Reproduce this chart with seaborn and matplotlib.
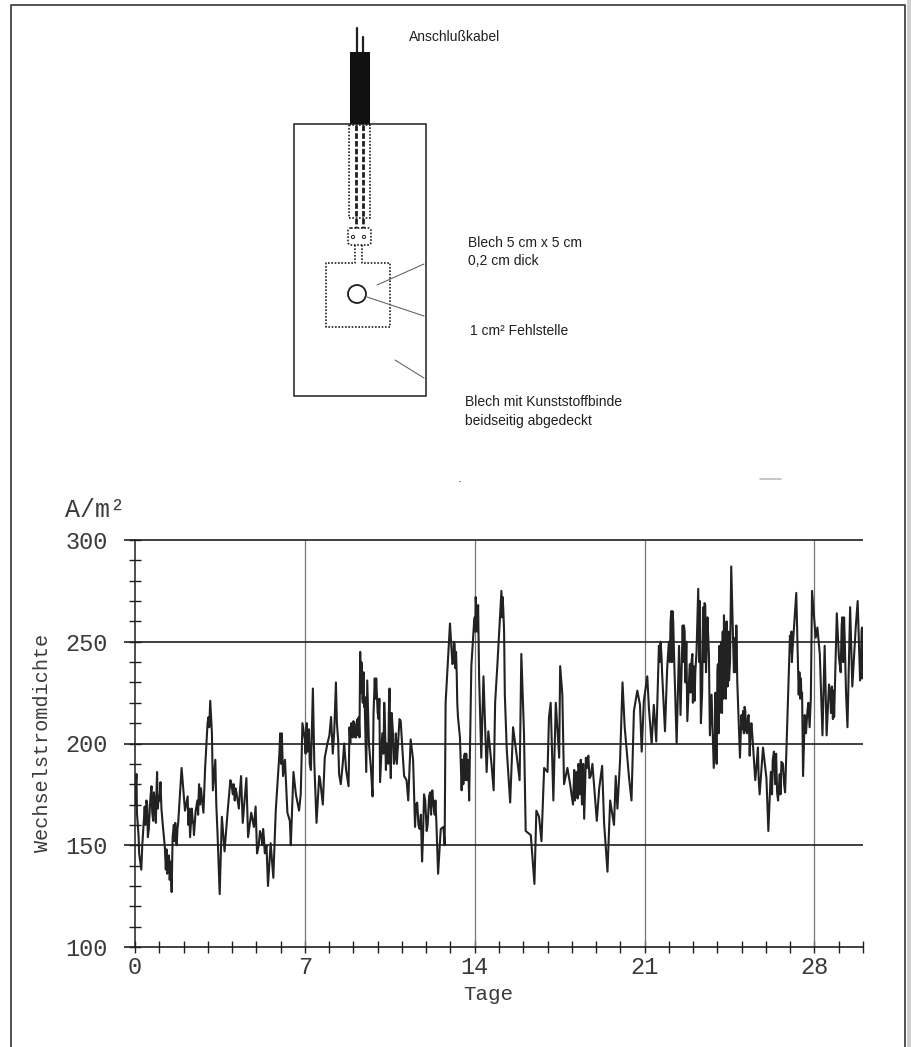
import matplotlib
matplotlib.use("Agg")
import matplotlib.pyplot as plt
from matplotlib.patches import Rectangle, Circle, FancyBboxPatch
import seaborn as sns

# readings, one pair of lists per stretch
days_a = [0.00, 0.06, 0.08, 0.15, 0.17, 0.26, 0.30, 0.40, 0.47, 0.53, 0.61, 0.68, 0.75, 0.82, 0.86, 0.91, 0.98, 1.05,
          1.13, 1.23, 1.27, 1.37, 1.51, 1.55, 1.60, 1.72, 1.78, 1.92, 2.06, 2.17, 2.27, 2.38, 2.43, 2.57, 2.64, 2.75,
          2.82, 2.89, 2.99, 3.10, 3.17, 3.21, 3.31, 3.35, 3.40, 3.49, 3.58, 3.69, 3.82, 3.93, 4.14, 4.23, 4.37, 4.44,
          4.59, 4.66, 4.79, 4.90, 4.97, 5.03, 5.15, 5.31, 5.48, 5.59, 5.70, 5.80, 5.98, 6.10, 6.18, 6.28, 6.38, 6.42,
          6.53, 6.63, 6.76, 6.83, 6.90, 7.00]
vals_a = [170, 185, 166, 154, 146, 138, 150, 169, 172, 154, 168, 179, 162, 170, 161, 186, 174, 181,
          162, 149, 138, 137, 127, 154, 160, 150, 161, 188, 167, 174, 154, 162, 155, 172, 180, 174,
          166, 188, 210, 221, 205, 177, 192, 170, 156, 126, 164, 147, 167, 182, 178, 172, 184, 161,
          183, 154, 166, 159, 169, 146, 157, 154, 130, 151, 134, 167, 205, 184, 192, 166, 162, 150,
          186, 175, 167, 175, 210, 202]

days_b = [7.08, 7.14, 7.25, 7.33, 7.39, 7.48, 7.59, 7.63, 7.74, 7.82, 7.93, 8.01, 8.08, 8.15, 8.21, 8.28, 8.32, 8.37,
          8.41, 8.48, 8.56, 8.62, 8.70, 8.80, 8.84, 8.94, 9.00, 9.11, 9.17, 9.25, 9.28, 9.35, 9.39, 9.46, 9.53, 9.57,
          9.64, 9.72, 9.79, 9.83, 9.88, 9.97, 10.04, 10.10, 10.19, 10.27, 10.34, 10.41, 10.49, 10.54, 10.63, 10.72,
          10.79, 10.90]
vals_b = [210, 203, 187, 227, 190, 161, 184, 182, 170, 193, 200, 204, 213, 195, 206, 230, 210, 202,
          185, 180, 190, 200, 187, 179, 208, 205, 211, 203, 212, 203, 245, 235, 220, 223, 186, 231,
          200, 188, 174, 215, 232, 223, 212, 181, 205, 220, 187, 194, 227, 183, 205, 194,
          190, 212]

days_c = [10.95, 11.02, 11.09, 11.19, 11.26, 11.36, 11.46, 11.54, 11.63, 11.73, 11.83, 11.91, 12.02, 12.12, 12.25,
          12.35, 12.42, 12.49, 12.60, 12.71, 12.76, 12.80, 12.98, 13.08, 13.17, 13.26, 13.31, 13.39, 13.46, 13.56,
          13.70, 13.77, 13.86, 13.97, 14.04, 14.11, 14.18, 14.27, 14.36, 14.49, 14.56, 14.69, 14.78, 14.84, 14.93,
          15.10, 15.18, 15.24, 15.32, 15.46, 15.58, 15.73, 15.85, 15.92, 16.03, 16.10, 16.31, 16.46, 16.54, 16.65,
          16.75, 16.86, 17.00]
vals_c = [211, 197, 184, 182, 172, 202, 192, 159, 171, 158, 142, 175, 157, 174, 177,
          165, 161, 136, 158, 159, 150, 220, 259, 239, 249, 233, 213, 203, 177, 193,
          190, 172, 238, 259, 272, 260, 233, 193, 233, 186, 206, 190, 177, 220, 238,
          275, 265, 224, 197, 171, 208, 194, 182, 244, 205, 157, 155, 131, 167, 164,
          152, 188, 186]

days_d = [17.06, 17.13, 17.24, 17.34, 17.48, 17.52, 17.61, 17.68, 17.82, 17.93, 18.05, 18.16, 18.30, 18.51, 18.58,
          18.78, 18.85, 19.03, 19.13, 19.25, 19.33, 19.47, 19.58, 19.74, 19.81, 19.88, 19.99, 20.09, 20.18, 20.29,
          20.36, 20.46, 20.56, 20.70, 20.81, 20.88, 20.97]
vals_d = [213, 220, 172, 220, 193, 238, 224, 180, 188, 180, 170, 180, 188, 163, 193,
          184, 190, 162, 178, 189, 161, 137, 172, 160, 184, 168, 192, 230, 208, 193,
          183, 172, 216, 226, 219, 196, 221]

days_e = [21.11, 21.18, 21.29, 21.38, 21.48, 21.59, 21.70, 21.84, 21.93, 22.07, 22.15, 22.21, 22.32, 22.42, 22.48,
          22.57, 22.65, 22.76, 22.86, 22.97, 23.06, 23.14, 23.21, 23.32, 23.42, 23.47, 23.56, 23.65, 23.69, 23.76,
          23.85, 23.94, 24.02, 24.13, 24.27, 24.35, 24.48, 24.57, 24.66, 24.71, 24.78, 24.82, 24.93, 24.99, 25.12,
          25.18, 25.26, 25.33, 25.44, 25.56, 25.67, 25.74, 25.88, 26.02, 26.10, 26.20, 26.33, 26.50, 26.64, 26.79,
          26.99, 27.09, 27.25, 27.35, 27.46, 27.53, 27.60, 27.71, 27.85, 27.90]
vals_e = [233, 217, 200, 219, 201, 248, 242, 206, 237, 260, 265, 245, 200, 248, 214,
          258, 255, 211, 239, 244, 221, 245, 276, 210, 267, 269, 247, 244, 204, 224,
          188, 203, 239, 245, 263, 222, 231, 287, 245, 240, 258, 230, 193, 214, 218,
          206, 213, 194, 204, 182, 198, 175, 198, 183, 157, 186, 196, 172, 191, 176,
          253, 245, 274, 224, 224, 184, 214, 216, 222, 275]

days_f = [28.05, 28.12, 28.22, 28.33, 28.42, 28.50, 28.60, 28.81, 28.92, 29.01, 29.15, 29.25, 29.36, 29.47, 29.56,
          29.70, 29.78, 29.88, 29.96, 30.00]
vals_f = [252, 257, 244, 204, 248, 204, 229, 213, 264, 242, 262, 250, 208, 267, 228,
          257, 270, 231, 257, 245]

# extra readings where the trace is so busy it reads as a thick band
days_g = [0.43, 0.50, 0.57, 0.64, 0.71, 0.78, 0.84, 0.89, 0.94, 1.01, 1.09, 1.30, 1.33, 1.40, 1.43, 1.47,
          1.63, 1.66, 1.69, 1.75, 2.20, 2.24, 2.30, 2.34, 2.41, 2.50, 2.60, 2.68, 2.72, 3.03, 3.06,
          3.98, 4.03, 4.07, 4.11, 4.18, 4.28, 4.32, 5.10, 5.20, 5.25, 5.28, 5.35, 5.42, 5.95, 6.02, 6.05,
          7.03, 7.06, 7.11, 7.17, 7.20, 8.87, 8.91, 8.97, 9.03, 9.07, 9.13, 9.20, 9.22,
          9.31, 9.33, 9.37, 9.42, 9.44, 9.91, 9.94, 10.00, 10.07, 10.24, 10.30, 10.37, 10.44, 10.46, 10.52, 10.58,
          10.67, 10.75, 11.58, 11.68, 11.78, 11.87, 11.96, 12.06, 12.16, 12.20, 12.30, 12.38]
vals_g = [160, 170, 158, 174, 166, 176, 165, 178, 168, 172, 168, 148, 136, 145, 133, 142,
          152, 161, 152, 158, 160, 168, 160, 168, 160, 167, 165, 170, 178, 213, 208,
          180, 175, 180, 172, 176, 168, 176, 150, 155, 150, 158, 146, 150, 195, 190, 205,
          195, 208, 196, 207, 190, 200, 210, 203, 210, 203, 210, 204, 213,
          225, 240, 222, 235, 218, 222, 232, 215, 222, 195, 210, 200, 190, 215, 195, 215,
          190, 205, 170, 160, 165, 155, 172, 160, 176, 165, 170, 172]

days_h = [13.12, 13.14, 13.20, 13.23, 13.28, 13.50, 13.53, 13.59, 13.62, 13.65, 13.68, 13.73, 14.00, 14.02, 14.07,
          14.09, 14.14, 15.13, 15.15, 15.21, 18.10, 18.13, 18.20, 18.24, 18.27, 18.33, 18.37, 18.42, 18.47,
          18.63, 18.68, 18.73, 21.62, 21.66, 21.72, 22.00, 22.04, 22.10, 22.13, 22.18, 22.60, 22.62, 22.68, 22.72,
          22.90, 22.93, 22.99, 23.02, 23.09, 23.25, 23.28, 23.37, 23.45, 23.50, 23.53, 23.59]
vals_h = [240, 250, 237, 245, 220, 192, 180, 195, 182, 195, 182, 192, 262, 255, 265,
          255, 268, 262, 272, 255, 187, 172, 186, 173, 190, 175, 192, 170, 190,
          188, 194, 183, 240, 250, 235, 250, 240, 265, 240, 260, 240, 258, 230, 250,
          225, 240, 220, 238, 235, 240, 270, 225, 240, 268, 235, 262]

days_i = [23.90, 23.92, 23.97, 24.00, 24.05, 24.08, 24.10, 24.16, 24.19, 24.22, 24.25, 24.30, 24.33, 24.38, 24.42,
          24.45, 24.52, 24.68, 24.74, 24.76, 25.03, 25.06, 25.09, 25.15, 25.22, 25.29, 25.36, 25.40, 25.62, 25.70,
          26.25, 26.28, 26.38, 26.42, 26.46, 26.57, 26.60, 26.70, 26.75, 27.02, 27.05, 27.07, 27.38, 27.41, 27.44,
          27.49, 27.65, 27.75, 27.80, 28.65, 28.68, 28.72, 28.76, 28.79, 29.08, 29.12, 29.18, 29.22, 29.30,
          29.92, 29.94, 29.98]
vals_i = [205, 225, 190, 235, 205, 248, 215, 250, 215, 255, 222, 250, 225, 260, 228,
          255, 240, 235, 252, 235, 207, 216, 205, 216, 205, 214, 203, 210, 190, 183,
          175, 192, 180, 195, 176, 185, 175, 190, 180, 245, 255, 240, 235, 222, 232,
          225, 205, 220, 208, 225, 215, 228, 212, 226, 235, 258, 240, 262, 225,
          238, 255, 232]

days = days_a + days_b + days_c + days_d + days_e + days_f + days_g + days_h + days_i
density = vals_a + vals_b + vals_c + vals_d + vals_e + vals_f + vals_g + vals_h + vals_i

y_major = [100, 150, 200, 250, 300]
x_major = [0, 7, 14, 21, 28]

W, H = 911, 1047
INK = "#1f1f1f"
GREY_TEXT = "#3a3a3a"
mono = ["Liberation Mono", "DejaVu Sans Mono"]

sns.set_theme(style="white")
plt.rcParams["font.family"] = ["Liberation Sans", "DejaVu Sans"]

fig = plt.figure(figsize=(W / 100, H / 100), dpi=100)

# --- sketch of the test plate, in page pixels ---
page = fig.add_axes([0, 0, 1, 1])
page.set_xlim(0, W)
page.set_ylim(H, 0)
page.axis("off")

page.plot([11, 11, 905, 905], [H, 5, 5, H], color="#444444", lw=1.3)
page.add_patch(Rectangle((906.5, 0), 4.5, H, color="#cfcfcf", lw=0))

page.add_patch(Rectangle((294, 124), 132, 272, fill=False, ec=INK, lw=1.1))
page.add_patch(Rectangle((350, 52), 19.5, 72, color="#111111", lw=0))
page.plot([356.5, 356.5], [28, 52], color=INK, lw=1.6)
page.plot([363, 363], [37, 52], color=INK, lw=1.6)

dots = dict(color=INK, lw=1.2, ls=(0, (1, 1)))
page.add_patch(Rectangle((349, 125), 21, 93, fill=False, ec=INK, lw=1.2, ls=(0, (1, 1))))
page.plot([356, 356], [125, 228], color=INK, lw=2.0, ls=(0, (2, 0.8)))
page.plot([363, 363], [125, 228], color=INK, lw=2.0, ls=(0, (2, 0.8)))
page.add_patch(FancyBboxPatch((348, 228), 23, 17, boxstyle="round,pad=0,rounding_size=3",
                              fill=False, ec=INK, lw=1.2, ls=(0, (1, 1))))
page.add_patch(Circle((353, 237), 1.6, fill=False, ec=INK, lw=0.7))
page.add_patch(Circle((364, 237), 1.6, fill=False, ec=INK, lw=0.7))
page.plot([355, 355, 326, 326, 390, 390, 362, 362], [245, 263, 263, 327, 327, 263, 263, 245], **dots)
page.add_patch(Circle((357, 294), 9, fill=False, ec=INK, lw=1.3))

for x0, y0, x1, y1 in [(377, 285, 424, 264), (367, 297, 424, 316), (395, 360, 424, 378)]:
    page.plot([x0, x1], [y0, y1], color="#555555", lw=0.7)

page.plot([760, 781], [479, 479], color="#bdbdbd", lw=1.2)
page.plot([459, 460], [481, 481], color="#888888", lw=0.8)

labels = [(409, 37, "Anschlußkabel"), (468, 243, "Blech 5 cm x 5 cm"), (468, 261, "0,2 cm dick"),
          (470, 331, "1 cm² Fehlstelle"), (465, 402, "Blech mit Kunststoffbinde"),
          (465, 421, "beidseitig abgedeckt")]
for x, y, s in labels:
    page.text(x, y, s, fontsize=10, color=INK, ha="left", va="center")

# --- measured curve ---
points = sorted(zip(days, density))
ax = fig.add_axes([135 / W, 1 - 947 / H, (863 - 135) / W, (947 - 540) / H])
ax.patch.set_alpha(0)
sns.lineplot(x=[p[0] for p in points], y=[p[1] for p in points], ax=ax, color="#222222", lw=1.5,
             estimator=None, sort=False, zorder=5)

ax.set_xlim(0, 30)
ax.set_ylim(100, 300)
sns.despine(ax=ax, top=True, right=True, bottom=True, left=False)
ax.spines["left"].set_color(INK)
ax.spines["left"].set_linewidth(1.1)

ax.hlines(y_major, -0.45, 30, color=INK, lw=1.2, clip_on=False, zorder=3)
ax.vlines(x_major[1:], 100, 300, color="#777777", lw=0.9, zorder=2)

ax.set_xticks(list(range(0, 31)))
ax.set_yticks(list(range(100, 301, 10)))
ax.set_xticklabels([str(d) if d in x_major else "" for d in range(0, 31)])
ax.set_yticklabels([str(v) if v in y_major else "" for v in range(100, 301, 10)])
ax.tick_params(axis="both", which="major", direction="inout", length=9, width=1.0, color=INK,
               labelcolor=GREY_TEXT, labelsize=17, left=True, bottom=True)
ax.tick_params(axis="x", pad=2)
ax.tick_params(axis="y", pad=15)
for t in ax.get_xticklabels() + ax.get_yticklabels():
    t.set_family(mono)

ax.set_xlabel("Tage", fontsize=15, family=mono, color=GREY_TEXT)
ax.xaxis.set_label_coords(0.485, -0.093)
fig.text(43 / W, 1 - 743 / H, "Wechselstromdichte", rotation=90, fontsize=14.5, family=mono,
         color=GREY_TEXT, ha="center", va="center")
fig.text(65 / W, 1 - 510 / H, "A/m²", fontsize=18, family=mono, color=GREY_TEXT, ha="left", va="center")

fig.savefig("out.png", dpi=100)
